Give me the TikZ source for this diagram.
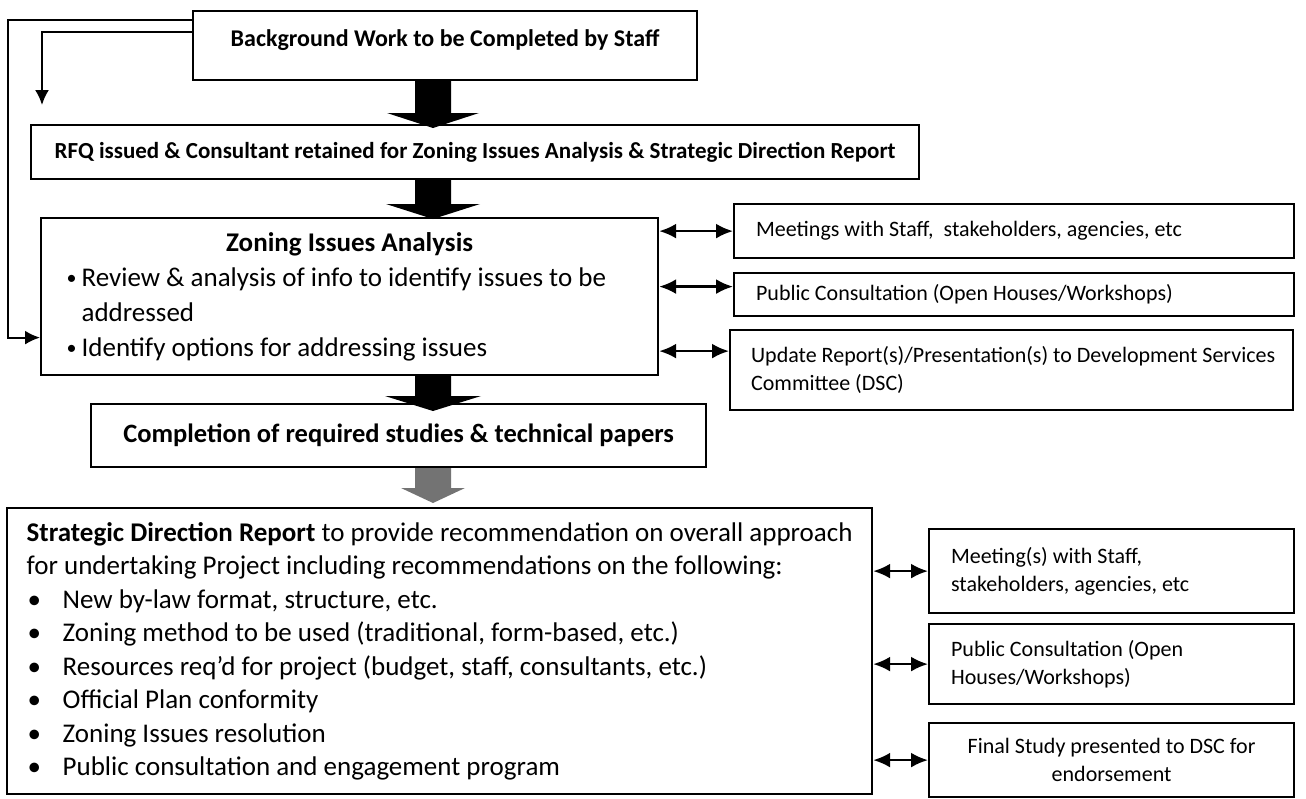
\documentclass[tikz,border=0pt]{standalone}
\usepackage{fontspec}
\setmainfont{Carlito}
\usetikzlibrary{arrows.meta,calc}

% thick block arrow from one box down to the next, at the x of (ax)
\newcommand{\blockarrow}[5][black]{%
  \fill[#1] ($(#2.south -| ax)+(-18,0)$) -- ($(#3.north -| ax)+(-18,#5-15)$)
    -- ($(#3.north -| ax)+(-#4,#5-15)$) -- ($(#3.north -| ax)+(0,#5)$)
    -- ($(#3.north -| ax)+(#4,#5-15)$) -- ($(#3.north -| ax)+(18,#5-15)$)
    -- ($(#2.south -| ax)+(18,0)$) -- cycle;}

\begin{document}
\begin{tikzpicture}[x=1pt,y=-1pt,
		box/.style={draw,line width=2.2pt,anchor=north west,inner sep=0pt},
		side/.style={box,align=flush left,inner xsep=22pt,font=\fontsize{22}{28}\selectfont},
		fb/.style={line width=2pt,-{Latex[length=15pt,width=14pt]}},
		link/.style={line width=2.4pt,{Latex[length=17pt,width=15pt]}-{Latex[length=17pt,width=15pt]}}
		]
		\useasboundingbox (0,0) rectangle (1306,798);
		\coordinate (ax) at (433,0);
		
		% main column
		\node[box,minimum width=504pt,text height=35pt,text depth=34pt,font=\bfseries\fontsize{24}{28}\selectfont] (bg) at (192,10) {Background Work to be Completed by Staff};
		\node[box,minimum width=888pt,minimum height=54pt,font=\bfseries\fontsize{23}{27}\selectfont] (rfq) at (30,124) {RFQ issued \& Consultant retained for Zoning Issues Analysis \& Strategic Direction Report};
		\node[box,minimum width=617pt,minimum height=157pt,align=left,font=\fontsize{27}{35}\selectfont] (zia) at (40,217) {\makebox[566pt]{\bfseries Zoning Issues Analysis}\\
			\makebox[15pt][l]{\raisebox{2pt}{\fontsize{20}{20}\selectfont\textbullet}}Review \& analysis of info to identify issues to be\\
			\hspace*{15pt}addressed\\
			\makebox[15pt][l]{\raisebox{2pt}{\fontsize{20}{20}\selectfont\textbullet}}Identify options for addressing issues};
		\node[box,minimum width=615pt,minimum height=63pt,font=\bfseries\fontsize{26.5}{30}\selectfont] (cmp) at (90,403) {Completion of required studies \& technical papers};
		\node[box,minimum width=865pt,minimum height=286pt,align=left,font=\fontsize{27}{33.5}\selectfont] (sdr) at (6,507) {\textbf{Strategic Direction Report} to provide recommendation on overall approach\\
			for undertaking Project including recommendations on the following:\\
			\hspace*{1pt}\makebox[35pt][l]{\textbullet}New by-law format, structure, etc.\\
			\hspace*{1pt}\makebox[35pt][l]{\textbullet}Zoning method to be used (traditional, form-based, etc.)\\
			\hspace*{1pt}\makebox[35pt][l]{\textbullet}Resources req’d for project (budget, staff, consultants, etc.)\\
			\hspace*{1pt}\makebox[35pt][l]{\textbullet}Official Plan conformity\\
			\hspace*{1pt}\makebox[35pt][l]{\textbullet}Zoning Issues resolution\\
			\hspace*{1pt}\makebox[35pt][l]{\textbullet}Public consultation and engagement program};
		
		% side boxes
		\node[side,text width=516pt,minimum height=54pt] (mtg) at (733,203) {Meetings with Staff,\ \ stakeholders, agencies, etc};
		\node[side,text width=516pt,minimum height=43pt] (pub) at (733,272) {Public Consultation (Open Houses/Workshops)};
		\node[side,text width=521pt,inner xsep=21pt,minimum height=80pt] (dsc) at (729,329) {\mbox{Update Report(s)/Presentation(s) to Development Services}\\ Committee (DSC)};
		\node[side,text width=321pt,minimum height=84pt] (mtgb) at (928,528) {Meeting(s) with Staff,\\ stakeholders, agencies, etc};
		\node[side,text width=321pt,minimum height=80pt] (pubb) at (928,623) {Public Consultation (Open\\ Houses/Workshops)};
		\node[side,text width=321pt,align=flush center,minimum height=74pt] (fin) at (928,722) {Final Study presented to DSC for\\ endorsement};
		
		% block arrows
		\blockarrow{bg}{rfq}{46}{4}
		\blockarrow{rfq}{zia}{47}{2}
		\blockarrow{zia}{cmp}{48}{8}
		\blockarrow[black!55]{cmp}{sdr}{32}{-4}
		
		% feedback lines
		\draw[fb] ([yshift=-10pt]bg.north west) -- ++(-184,0) |- ([yshift=-41pt]zia.west);
		\draw[fb] ([yshift=-22pt]bg.north west) -| ([xshift=12pt,yshift=19pt]rfq.north west);
		
		% two-way links
		\coordinate (pubin) at ($(pub.west)+(0,-8)$);
		\coordinate (dscin) at ($(dsc.west)+(0,-19)$);
		\draw[link] (zia.east |- mtg.west) -- (mtg.west);
		\draw[link] (zia.east |- pubin) -- (pubin);
		\draw[link] (zia.east |- dscin) -- (dscin);
		\draw[link] (sdr.east |- mtgb.west) -- (mtgb.west);
		\draw[link] (sdr.east |- pubb.west) -- (pubb.west);
		\draw[link] (sdr.east |- fin.west) -- (fin.west);
	\end{tikzpicture}
\end{document}
